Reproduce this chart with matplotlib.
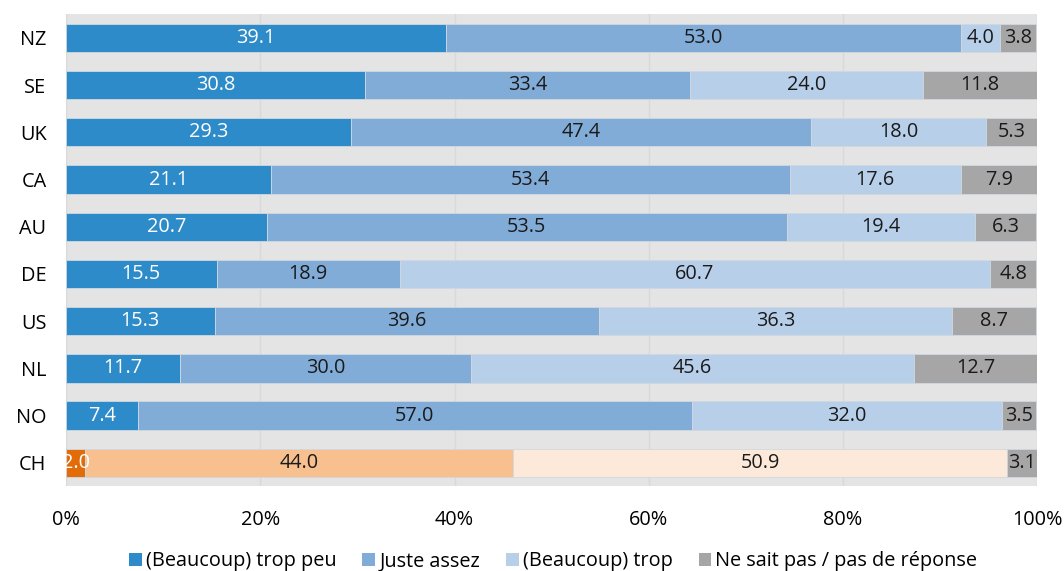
import matplotlib.pyplot as plt
import numpy as np

plt.rcParams['font.family'] = ['Open Sans', 'DejaVu Sans']

# Survey shares per country (percent)
countries = ['NZ', 'SE', 'UK', 'CA', 'AU', 'DE', 'US', 'NL', 'NO', 'CH']
trop_peu = [39.1, 30.8, 29.3, 21.1, 20.7, 15.5, 15.3, 11.7, 7.4, 2.0]
juste_assez = [53.0, 33.4, 47.4, 53.4, 53.5, 18.9, 39.6, 30.0, 57.0, 44.0]
trop = [4.0, 24.0, 18.0, 17.6, 19.4, 60.7, 36.3, 45.6, 32.0, 50.9]
ne_sait_pas = [3.8, 11.8, 5.3, 7.9, 6.3, 4.8, 8.7, 12.7, 3.5, 3.1]

series_labels = ['(Beaucoup) trop peu', 'Juste assez', '(Beaucoup) trop',
                 'Ne sait pas / pas de réponse']

blue_colors = ['#2e8bc9', '#82acd8', '#b8cfea', '#a6a6a6']
ch_colors = ['#e36c0a', '#f9c08f', '#fde9d9', '#a6a6a6']
text_colors = ['white', '#1a1a1a', '#1a1a1a', '#1a1a1a']

series = [trop_peu, juste_assez, trop, ne_sait_pas]
fs = 14.3

fig, ax = plt.subplots(figsize=(10.64, 5.71), dpi=100)
fig.subplots_adjust(left=0.062, right=0.975, top=0.975, bottom=0.148)
ax.set_facecolor('#e4e4e4')

y = np.arange(len(countries))
left = np.zeros(len(countries))
for k, vals in enumerate(series):
    vals = np.array(vals)
    colors = [ch_colors[k] if c == 'CH' else blue_colors[k] for c in countries]
    ax.barh(y, vals, left=left, height=0.6, color=colors,
            edgecolor='#d0d8e0', linewidth=0.6, label=series_labels[k], zorder=3)
    for i, v in enumerate(vals):
        ax.text(left[i] + v / 2, y[i], f'{v:.1f}', ha='center', va='center',
                fontsize=fs, color=text_colors[k], zorder=4)
    left += vals

ax.set_xlim(0, 100)
ax.set_ylim(len(countries) - 0.5, -0.5)
ax.set_yticks(y)
ax.set_yticklabels(countries, fontsize=fs)
ax.set_xticks(np.arange(0, 101, 20))
ax.set_xticklabels([f'{t}%' for t in range(0, 101, 20)], fontsize=fs)
ax.tick_params(axis='y', length=0, pad=14)
ax.tick_params(axis='x', length=0, pad=17)
ax.grid(axis='x', color='#d9d9d9', linewidth=1.0, zorder=0)
for s in ax.spines.values():
    s.set_visible(False)
ax.axvline(0, color='#d2d2d2', linewidth=1.5, zorder=1)

handles, labels = ax.get_legend_handles_labels()
leg = fig.legend(handles, labels, loc='lower center', ncol=4, frameon=False,
                 fontsize=fs, handlelength=0.65, handleheight=0.65,
                 handletextpad=0.2, columnspacing=1.3, bbox_to_anchor=(0.52, -0.032))
for h, c in zip(leg.legend_handles, blue_colors):
    h.set_facecolor(c)
    h.set_edgecolor('none')

fig.savefig('out.png', dpi=100, facecolor='white')
